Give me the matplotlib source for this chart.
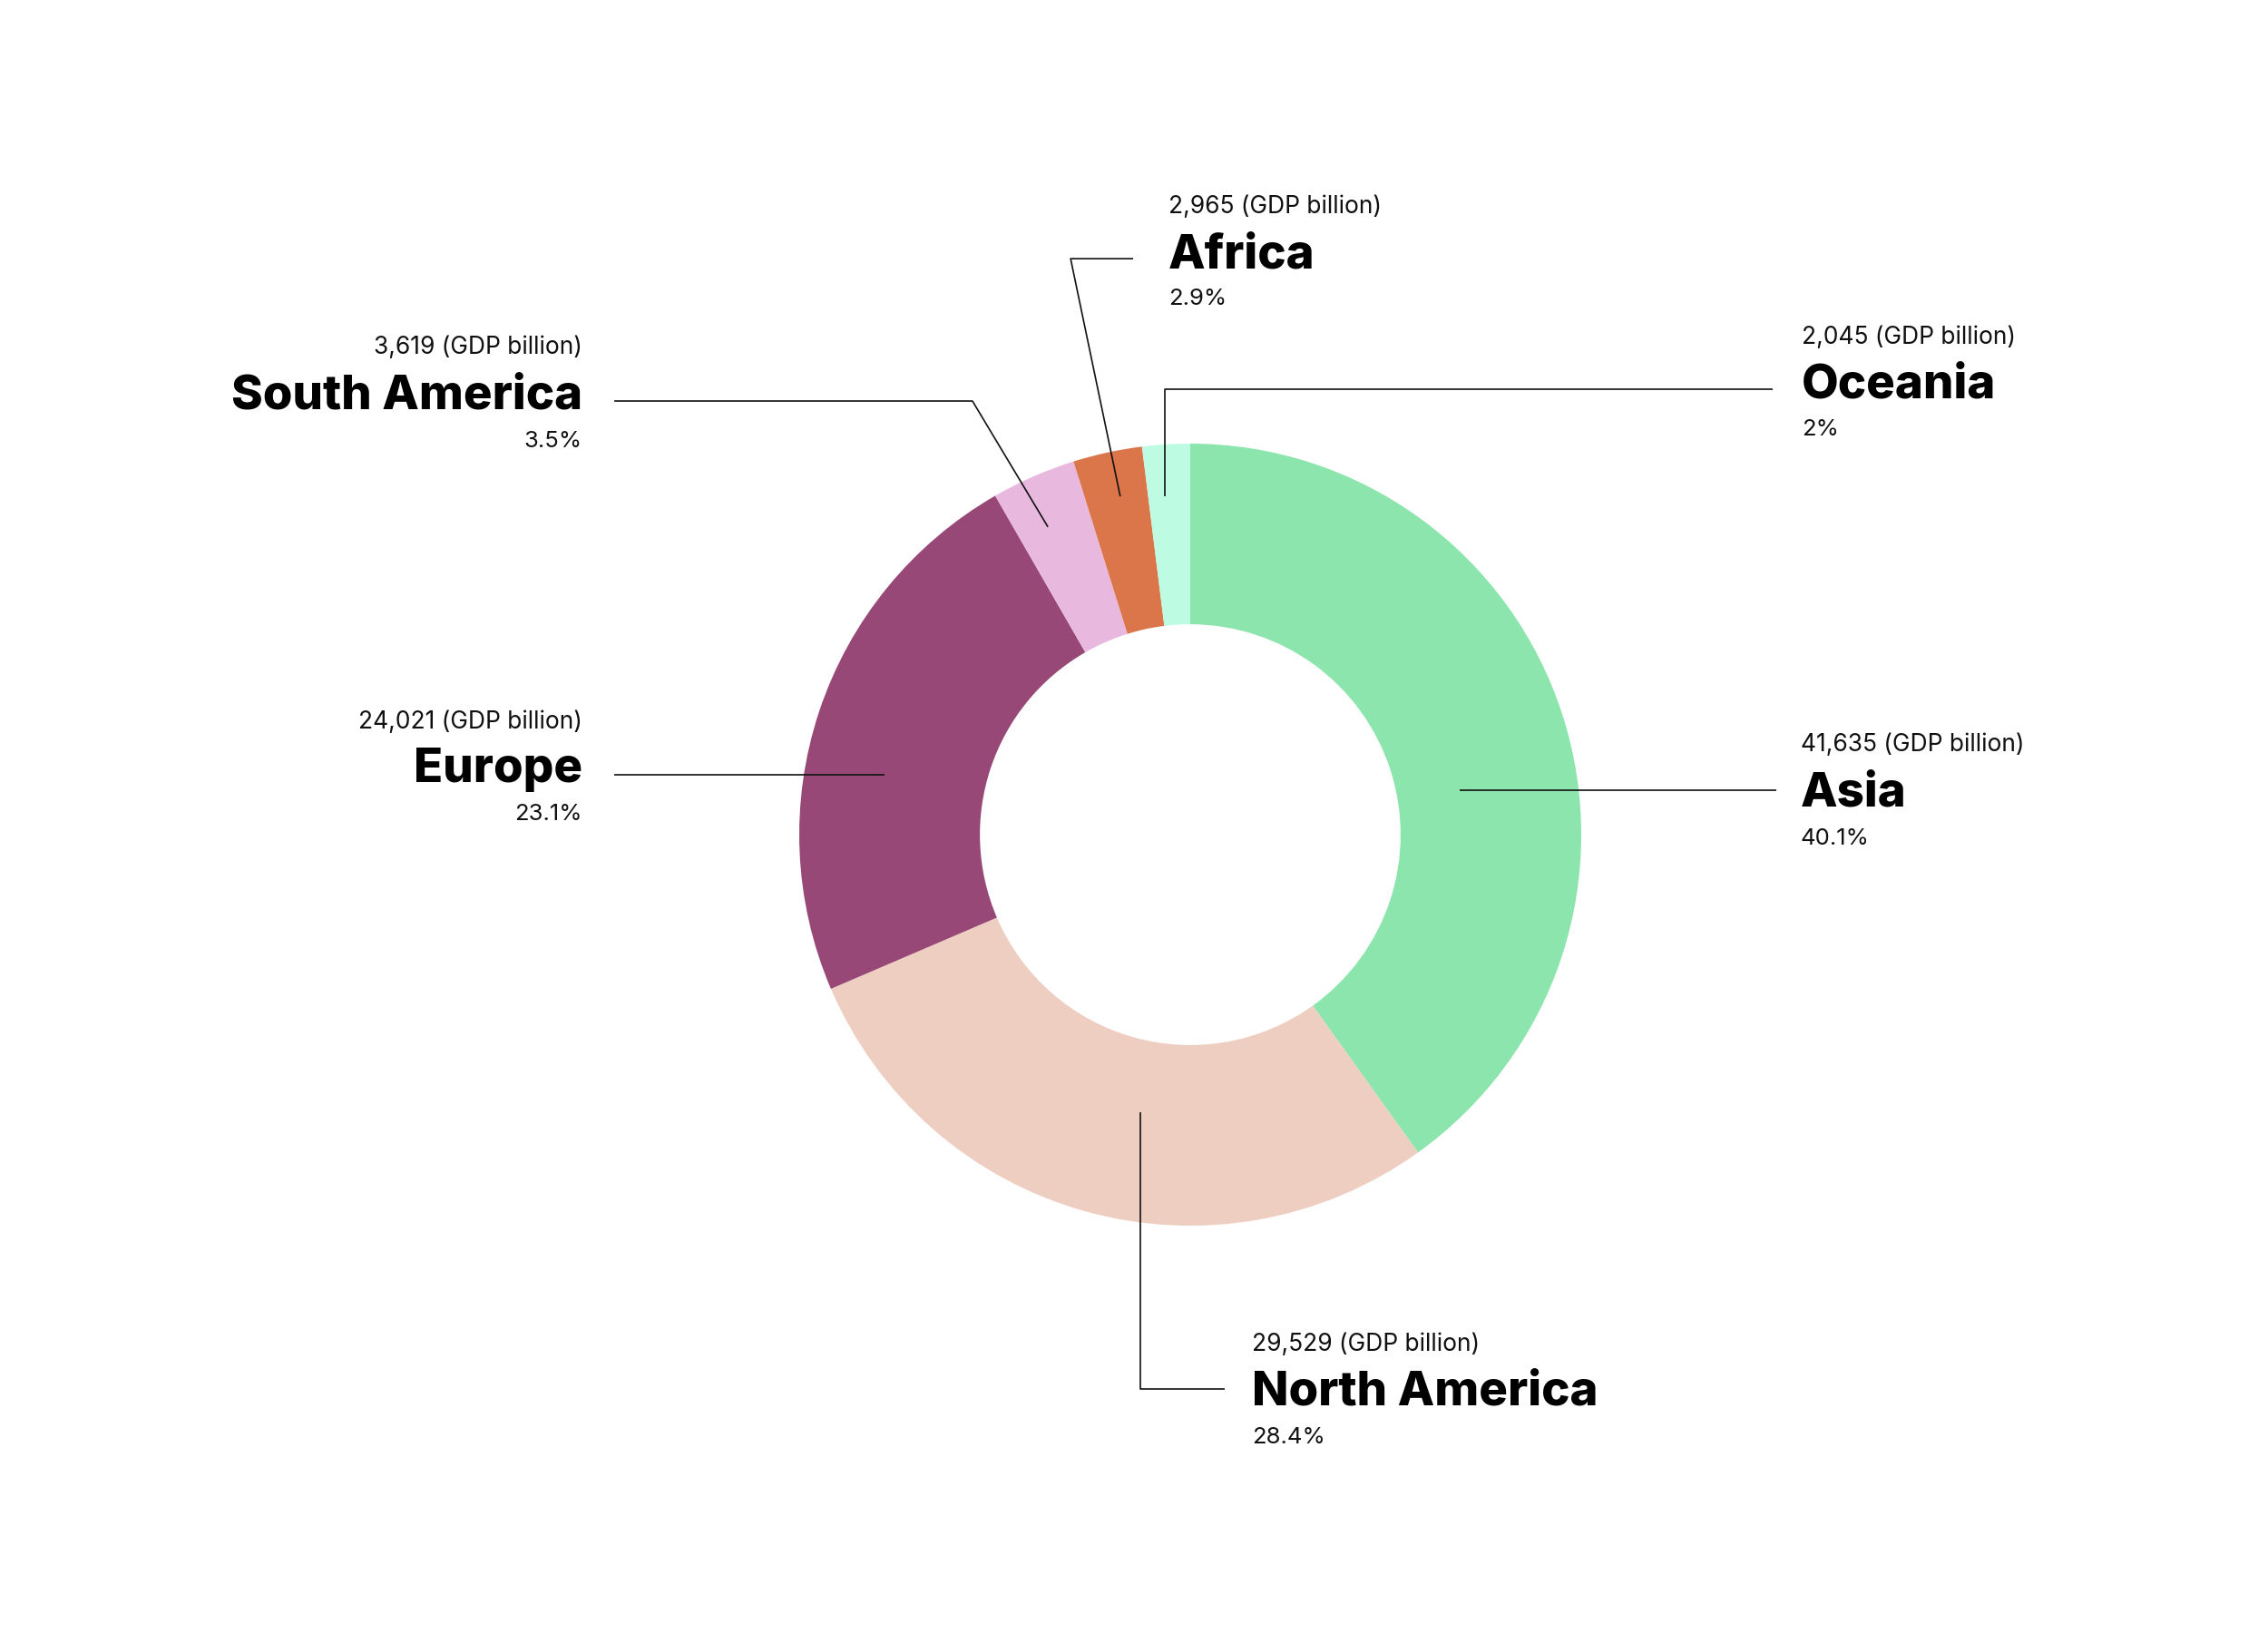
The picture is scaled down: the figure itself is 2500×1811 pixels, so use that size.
import matplotlib
matplotlib.use("Agg")
import matplotlib.pyplot as plt

# GDP by continent (billion)
continents = ["Asia", "North America", "Europe", "South America", "Africa", "Oceania"]
gdp = [41635, 29529, 24021, 3619, 2965, 2045]
shares = ["40.1%", "28.4%", "23.1%", "3.5%", "2.9%", "2%"]
colors = ["#8CE5AC", "#EFCEC2", "#984876", "#E8B8DE", "#DB764A", "#BDFCE3"]

plt.rcParams['font.family'] = ['Inter', 'DejaVu Sans']

W, H = 2500, 1811
CX, CY, R = 1312, 920, 431   # pixel geometry of the donut

fig = plt.figure(figsize=(W / 100, H / 100), dpi=100)
ax = fig.add_axes([0, 0, 1, 1])
ax.pie(gdp, colors=colors, startangle=90, counterclock=False,
       wedgeprops=dict(width=0.462, linewidth=0))
ax.set_aspect('auto')
ax.set_xlim(-CX / R, (W - CX) / R)
ax.set_ylim(-(H - CY) / R, CY / R)
ax.axis('off')

# label layout: text x, alignment, baselines (small, name, pct), leader path
layout = {
    "Asia":          (1.561, 'left',  (0.213, 0.072, -0.026),
                      [(0.689, 0.114), (1.499, 0.114)]),
    "Oceania":       (1.564, 'left',  (1.255, 1.118, 1.021),
                      [(-0.065, 0.865), (-0.065, 1.139), (1.490, 1.139)]),
    "Africa":        (-0.056, 'left', (1.589, 1.450, 1.355),
                      [(-0.179, 0.865), (-0.306, 1.473), (-0.146, 1.473)]),
    "South America": (-1.555, 'right', (1.230, 1.089, 0.991),
                      [(-0.364, 0.787), (-0.557, 1.109), (-1.473, 1.109)]),
    "Europe":        (-1.555, 'right', (0.271, 0.135, 0.037),
                      [(-0.782, 0.154), (-1.473, 0.154)]),
    "North America": (0.158, 'left',  (-1.320, -1.459, -1.557),
                      [(-0.128, -0.710), (-0.128, -1.418), (0.088, -1.418)]),
}

for name, value, share in zip(continents, gdp, shares):
    tx, ha, (y_small, y_name, y_pct), path = layout[name]
    xs = [p[0] for p in path]
    ys = [p[1] for p in path]
    ax.plot(xs, ys, color="#111111", lw=1.2, solid_capstyle='butt')
    ax.text(tx, y_small, f"{value:,} (GDP billion)", ha=ha, va='baseline',
            fontsize=19, color="#111111")
    ax.text(tx, y_name, name, ha=ha, va='baseline',
            fontsize=38, fontweight='heavy', color="#000000")
    ax.text(tx, y_pct, share, ha=ha, va='baseline',
            fontsize=18.5, color="#111111")

fig.savefig("out.png", dpi=100, facecolor="white")
